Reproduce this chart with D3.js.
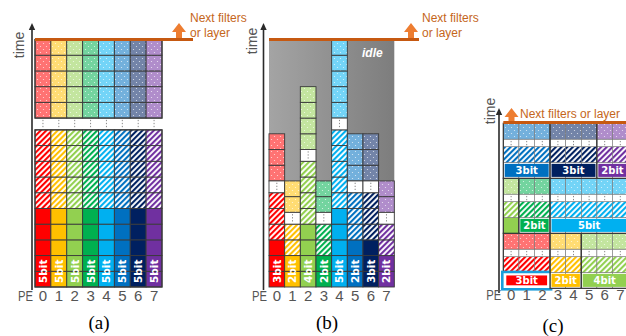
<!DOCTYPE html>
<html>
<head>
<meta charset="utf-8">
<script src="https://cdn.jsdelivr.net/npm/d3@7"></script>
<style>
  html, body { margin: 0; padding: 0; background: #fff; }
  svg { display: block; }
</style>
</head>
<body>
<svg id="chart" width="626" height="336"></svg>
<script>
// ---- data -------------------------------------------------------------
const peLabels = ["0", "1", "2", "3", "4", "5", "6", "7"];
const peColors = ["#ff0000", "#ffc000", "#92d050", "#00b050", "#00b0f0", "#0070c0", "#002060", "#7030a0"];

// (a) every PE runs a 5-bit filter
const bitsA  = [5, 5, 5, 5, 5, 5, 5, 5];
const cellsA = [5, 5, 5, 5, 5, 5, 5, 5];

// (b) mixed precision, one filter per PE
const bitsB  = [3, 2, 4, 2, 5, 2, 3, 2];
const cellsB = [3, 2, 4, 2, 5, 3, 3, 2];

// (c) bit-serial packing: each filter (colour) is spread over several PEs
const bitsC      = [3, 2, 4, 2, 5, 3, 3, 2];
const segLayer   = [0, 1, 2, 2, 3, 4, 5, 6, 7];
const segSection = [0, 0, 0, 1, 1, 1, 2, 2, 2];
const segStart   = [0, 3, 5, 0, 1, 3, 0, 3, 6];
const segWidth   = [3, 2, 3, 1, 2, 5, 3, 3, 2];
const highlightC = 0;

const panelTitles = ["(a)", "(b)", "(c)"];
const nextText = ["Next filters", "or layer"];
const idleText = "idle";
const axisTitle = "time";

// ---- setup ------------------------------------------------------------
const svg = d3.select("#chart");
const defs = svg.append("defs");
const FONT = "'Liberation Sans', Arial, sans-serif";
const BOLD = "'DejaVu Sans', Verdana, sans-serif";
const SERIF = "'Liberation Serif', 'Times New Roman', serif";
const STROKE = "#3a3a3a";
const ORANGE_LINE = "#c65911";
const ORANGE_ARROW = "#ed7d31";
const ORANGE_TEXT = "#c5661b";
const H_GAP = 0.75;   // height of the "…" break in (a)/(b), in cell units
const G_C = 0.47;     // height of the break in (c)

const tint = c => d3.interpolateRgb(c, "#ffffff")(0.45);

// dotted (pastel) and striped fills for every PE colour
peColors.forEach((c, i) => {
  const dp = defs.append("pattern").attr("id", `dots${i}`)
    .attr("patternUnits", "userSpaceOnUse").attr("width", 6).attr("height", 6);
  dp.append("rect").attr("width", 6).attr("height", 6).attr("fill", tint(c));
  [[1.5, 1.5], [4.5, 4.5]].forEach(([x, y]) =>
    dp.append("circle").attr("cx", x).attr("cy", y).attr("r", 0.6).attr("fill", "#fff").attr("opacity", 0.75));

  const hp = defs.append("pattern").attr("id", `hatch${i}`)
    .attr("patternUnits", "userSpaceOnUse").attr("width", 4).attr("height", 4)
    .attr("patternTransform", "rotate(45)");
  hp.append("rect").attr("width", 4).attr("height", 4).attr("fill", "#fff");
  hp.append("rect").attr("width", 2.1).attr("height", 4).attr("fill", c);
});

const grad = defs.append("linearGradient").attr("id", "idleGrad")
  .attr("x1", "0%").attr("x2", "100%").attr("y1", "0%").attr("y2", "0%");
grad.append("stop").attr("offset", "0%").attr("stop-color", "#a4a4a4");
grad.append("stop").attr("offset", "100%").attr("stop-color", "#7d7d7d");

// ---- helpers ----------------------------------------------------------
function drawCell(g, x, w, yTop, yBot, fill, stroke, sw) {
  g.append("rect").attr("x", x).attr("y", yTop)
    .attr("width", w).attr("height", yBot - yTop)
    .attr("fill", fill).attr("stroke", stroke).attr("stroke-width", sw);
}

function drawBreak(g, cx, yTop, yBot) {
  g.append("line").attr("x1", cx).attr("x2", cx)
    .attr("y1", yTop + 1.8).attr("y2", yBot - 1.2)
    .attr("stroke", "#8a8a8a").attr("stroke-width", 1)
    .attr("stroke-dasharray", "1.3,1.7");
}

function drawStack(g, x, y, pe, cells, bits, gapBox) {
  const i = +pe, c = peColors[i], x0 = x(pe), w = x.bandwidth();
  const phases = [
    { fill: c, from: 0 },
    { fill: `url(#hatch${i})`, from: cells },
    { fill: `url(#dots${i})`, from: 2 * cells + H_GAP }
  ];
  phases.forEach(p => d3.range(cells).forEach(k =>
    drawCell(g, x0, w, y(p.from + k + 1), y(p.from + k), p.fill, STROKE, 0.9)));
  const gb = y(2 * cells), gt = y(2 * cells + H_GAP);
  if (gapBox) drawCell(g, x0, w, gt, gb, "#fff", STROKE, 0.9);
  drawBreak(g, x0 + w / 2, gt, gb);
  g.append("text")
    .attr("transform", `translate(${x0 + w / 2},${y(1)}) rotate(-90)`)
    .attr("text-anchor", "middle").attr("dominant-baseline", "central")
    .attr("font-family", BOLD).attr("font-weight", "bold").attr("font-size", 10.5)
    .attr("fill", "#fff").text(`${bits}bit`);
}

function timeAxis(x, yTop, yBot, labelX, labelY) {
  svg.append("line").attr("x1", x).attr("x2", x).attr("y1", yTop + 5).attr("y2", yBot)
    .attr("stroke", "#2a2a2a").attr("stroke-width", 1.6);
  svg.append("path")
    .attr("d", `M${x},${yTop} L${x + 3.2},${yTop + 7} L${x - 3.2},${yTop + 7} Z`)
    .attr("fill", "#2a2a2a");
  svg.append("text")
    .attr("transform", `translate(${labelX},${labelY}) rotate(-90)`)
    .attr("text-anchor", "middle").attr("font-family", FONT).attr("font-size", 14)
    .attr("fill", "#555").text(axisTitle);
}

function peAxis(x, yPos) {
  const g = svg.append("g").attr("transform", `translate(0,${yPos})`)
    .call(d3.axisBottom(x).tickSize(0).tickPadding(0));
  g.select(".domain").remove();
  g.selectAll("text").attr("font-family", FONT).attr("font-size", 15).attr("fill", "#555");
  svg.append("text").attr("x", x.range()[0] - 17).attr("y", yPos + 10.7)
    .attr("font-family", FONT).attr("font-size", 15).attr("fill", "#555")
    .attr("textLength", 15).attr("lengthAdjust", "spacingAndGlyphs").text("PE");
}

function upArrow(cx, tipY, baseY) {
  const hw = 7, headH = 9, sw = 3;
  svg.append("path")
    .attr("d", `M${cx},${tipY} L${cx + hw},${tipY + headH} L${cx + sw},${tipY + headH} L${cx + sw},${baseY}` +
               ` L${cx - sw},${baseY} L${cx - sw},${tipY + headH} L${cx - hw},${tipY + headH} Z`)
    .attr("fill", ORANGE_ARROW);
}

function nextLine(x1, x2, y) {
  svg.append("line").attr("x1", x1).attr("x2", x2).attr("y1", y).attr("y2", y)
    .attr("stroke", ORANGE_LINE).attr("stroke-width", 3);
}

function nextLabel(x, y, lines) {
  lines.forEach((t, k) => svg.append("text").attr("x", x).attr("y", y + k * 14.5)
    .attr("font-family", FONT).attr("font-size", 12).attr("fill", ORANGE_TEXT).text(t));
}

function title(cx, y, t) {
  svg.append("text").attr("x", cx).attr("y", y).attr("text-anchor", "middle")
    .attr("font-family", SERIF).attr("font-size", 19).attr("fill", "#000").text(t);
}

// ---- (a) --------------------------------------------------------------
const xA = d3.scaleBand().domain(peLabels).range([35, 162]);
const yA = d3.scaleLinear().domain([0, 15 + H_GAP]).range([287, 39.5]);
const gA = svg.append("g");
peLabels.forEach((pe, i) => drawStack(gA, xA, yA, pe, cellsA[i], bitsA[i], false));
gA.append("rect").attr("x", xA.range()[0]).attr("y", yA(10)).attr("width", xA.range()[1] - xA.range()[0])
  .attr("height", yA(0) - yA(10)).attr("fill", "none").attr("stroke", STROKE).attr("stroke-width", 1.2);
gA.append("rect").attr("x", xA.range()[0]).attr("y", yA(15 + H_GAP)).attr("width", xA.range()[1] - xA.range()[0])
  .attr("height", yA(10 + H_GAP) - yA(15 + H_GAP)).attr("fill", "none").attr("stroke", STROKE).attr("stroke-width", 1.2);
timeAxis(32, 23, 290, 23.5, 45);
peAxis(xA, 290);
nextLine(35, 193, 39.5);
upArrow(179, 23, 38);
nextLabel(190, 22, nextText);
title(99, 329, panelTitles[0]);

// ---- (b) --------------------------------------------------------------
const xB = d3.scaleBand().domain(peLabels).range([269, 394.3]);
const yB = d3.scaleLinear().domain([0, 15 + H_GAP]).range([287, 39.5]);
svg.append("rect").attr("x", xB.range()[0]).attr("y", yB(15 + H_GAP))
  .attr("width", xB.range()[1] - xB.range()[0]).attr("height", yB(0) - yB(15 + H_GAP))
  .attr("fill", "url(#idleGrad)");
svg.append("text").attr("x", 362).attr("y", 57)
  .attr("font-family", FONT).attr("font-size", 12).attr("font-weight", "bold").attr("font-style", "italic")
  .attr("fill", "#fff").text(idleText);
const gB = svg.append("g");
peLabels.forEach((pe, i) => drawStack(gB, xB, yB, pe, cellsB[i], bitsB[i], true));
timeAxis(263.5, 23, 290, 256.5, 41);
peAxis(xB, 290);
nextLine(269, 419, 39.5);
upArrow(411, 23, 38);
nextLabel(422, 22, nextText);
title(327, 329, panelTitles[1]);

// ---- (c) --------------------------------------------------------------
const xC = d3.scaleBand().domain(peLabels).range([503.3, 628.1]);
const secSpan = 3 + G_C;
const yC = d3.scaleLinear().domain([0, 3 * secSpan]).range([288.3, 123.3]);
const gC = svg.append("g");
const bw = xC.bandwidth();

segLayer.forEach((layer, j) => {
  const c = peColors[layer];
  const base = segSection[j] * secSpan;
  const cols = d3.range(segStart[j], segStart[j] + segWidth[j]).map(String);
  // the segment carrying most of a filter's bits holds its label
  const widest = d3.max(segLayer.map((l, k) => l === layer ? segWidth[k] : 0));
  const labelled = segWidth[j] === widest;

  cols.forEach(pe => {
    const x0 = xC(pe);
    drawCell(gC, x0, bw, yC(base + 1), yC(base), labelled ? "#fff" : c, "#777", 0.6);
    drawCell(gC, x0, bw, yC(base + 2), yC(base + 1), `url(#hatch${layer})`, "#777", 0.6);
    drawCell(gC, x0, bw, yC(base + 2 + G_C), yC(base + 2), "#fff", "#777", 0.6);
    drawBreak(gC, x0 + bw / 2, yC(base + 2 + G_C), yC(base + 2));
    drawCell(gC, x0, bw, yC(base + 3 + G_C), yC(base + 2 + G_C), `url(#dots${layer})`, "#777", 0.6);
  });

  const gx = xC(String(segStart[j]));
  const gw = segWidth[j] * bw;
  gC.append("rect").attr("x", gx).attr("y", yC(base + secSpan)).attr("width", gw)
    .attr("height", yC(base) - yC(base + secSpan)).attr("fill", "none")
    .attr("stroke", "#333").attr("stroke-width", 1.2);

  if (labelled) {
    const hl = layer === highlightC;
    const inset = hl ? 3 : 1.4;
    if (hl) {
      gC.append("rect").attr("x", gx - 1).attr("y", yC(base + 1) - 0.5)
        .attr("width", gw + 2).attr("height", yC(base) - yC(base + 1) + 1.5)
        .attr("fill", "#fff").attr("stroke", "#1b9ddb").attr("stroke-width", 2.6);
    }
    gC.append("rect").attr("x", gx + inset).attr("y", yC(base + 1) + inset)
      .attr("width", gw - 2 * inset).attr("height", yC(base) - yC(base + 1) - 2 * inset)
      .attr("fill", c);
    gC.append("text").attr("x", gx + gw / 2).attr("y", (yC(base) + yC(base + 1)) / 2)
      .attr("text-anchor", "middle").attr("dominant-baseline", "central")
      .attr("font-family", BOLD).attr("font-weight", "bold").attr("font-size", 10)
      .attr("fill", "#fff").text(`${bitsC[layer]}bit`);
  }
});
timeAxis(499, 108, 293, 494.5, 111);
peAxis(xC, 289);
nextLine(503.3, 626, 122.5);
upArrow(511.5, 108, 121);
nextLabel(520, 118, [nextText.join(" ")]);
title(553, 332, panelTitles[2]);
</script>
</body>
</html>
